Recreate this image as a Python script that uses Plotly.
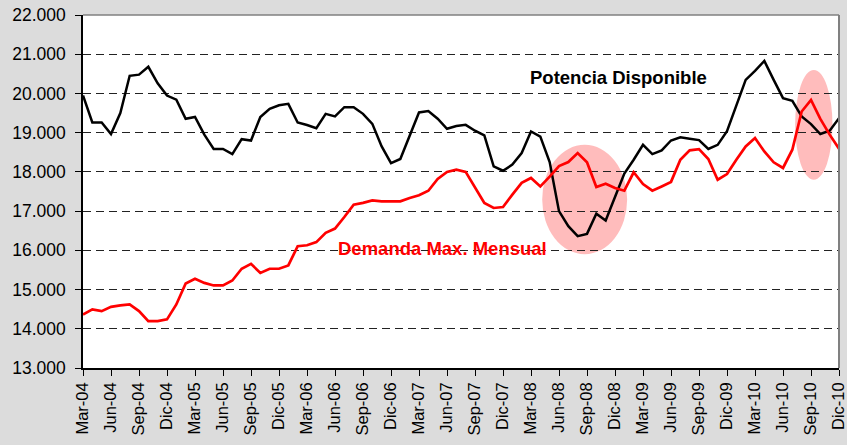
import plotly.graph_objects as go

# ---- data ----
month_names = ["Ene", "Feb", "Mar", "Abr", "May", "Jun",
               "Jul", "Ago", "Sep", "Oct", "Nov", "Dic"]
years = ["04", "05", "06", "07", "08", "09", "10"]
months = [f"{m}-{y}" for y in years for m in month_names][2:]  # Mar-04 .. Dic-10

potencia_disponible = [
    19950, 19260, 19260, 18965, 19500, 20450, 20480, 20680, 20260, 19945,
    19840, 19355, 19400, 18950, 18585, 18585, 18455, 18835, 18800, 19400,
    19610, 19700, 19735, 19260, 19195, 19115, 19480, 19415, 19650, 19650,
    19480, 19225, 18650, 18225, 18330, 18920, 19515, 19550, 19355, 19100,
    19170, 19200, 19050, 18930, 18140, 18030, 18185, 18480, 19030, 18900,
    18250, 17000, 16615, 16360, 16420, 16935, 16760, 17360, 17955, 18310,
    18690, 18455, 18550, 18800, 18880, 18845, 18810, 18585, 18690, 19040,
    19710, 20345, 20575, 20830, 20345, 19880, 19810, 19415, 19220, 18965,
    19050, 19370,
]

demanda_max = [
    14365, 14495, 14450, 14560, 14595, 14620, 14450, 14195, 14195, 14240,
    14620, 15155, 15275, 15170, 15105, 15105, 15230, 15530, 15655, 15425,
    15530, 15530, 15615, 16105, 16130, 16210, 16445, 16555, 16850, 17165,
    17210, 17275, 17250, 17250, 17250, 17335, 17405, 17520, 17820, 18000,
    18055, 18000, 17590, 17210, 17080, 17105, 17420, 17720, 17845, 17630,
    17880, 18150, 18250, 18480, 18245, 17615, 17700, 17590, 17520, 17990,
    17690, 17520, 17630, 17745, 18310, 18550, 18580, 18330, 17800, 17945,
    18310, 18650, 18865, 18520, 18245, 18100, 18565, 19540, 19835, 19350,
    18950, 18590,
]

tick_labels = months[::3]

FONT = "Arial, Liberation Sans, sans-serif"

fig = go.Figure()

fig.add_trace(go.Scatter(
    x=months, y=potencia_disponible, mode="lines",
    line=dict(color="black", width=2.5), name="Potencia Disponible",
))
fig.add_trace(go.Scatter(
    x=months, y=demanda_max, mode="lines",
    line=dict(color="#ff0000", width=2.7), name="Demanda Max. Mensual",
))

# highlighted ellipses (behind the lines)
fig.add_shape(type="circle", xref="x", yref="y", layer="below",
              x0=49.2, x1=58.3, y0=15900, y1=18690,
              fillcolor="rgba(255,70,70,0.36)", line=dict(width=0))
fig.add_shape(type="circle", xref="x", yref="y", layer="below",
              x0=76.3, x1=80.3, y0=17800, y1=20600,
              fillcolor="rgba(255,70,70,0.36)", line=dict(width=0))

# top / right plot border
fig.add_shape(type="line", xref="paper", yref="paper", x0=0, x1=1, y0=1, y1=1,
              line=dict(color="#808080", width=1.5))
fig.add_shape(type="line", xref="paper", yref="paper", x0=1, x1=1, y0=0, y1=1,
              line=dict(color="#808080", width=2))

fig.add_annotation(x=57.4, y=20400, xref="x", yref="y",
                   text="<b>Potencia Disponible</b>", showarrow=False,
                   font=dict(family=FONT, size=18.5, color="black"))
fig.add_annotation(x=38.5, y=16050, xref="x", yref="y",
                   text="<b>Demanda Max. Mensual</b>", showarrow=False,
                   font=dict(family=FONT, size=18.5, color="#ff0000"))

fig.update_layout(
    width=847, height=445,
    margin=dict(l=83, r=8, t=15, b=77),
    paper_bgcolor="#dcdcdc",
    plot_bgcolor="white",
    showlegend=False,
    separators=",.",
    font=dict(family=FONT, size=17, color="black"),
)

fig.update_xaxes(
    type="category",
    categoryorder="array", categoryarray=months,
    range=[0, len(months) - 1],
    tickmode="array", tickvals=tick_labels, ticktext=tick_labels,
    tickangle=-90,
    ticks="outside", ticklen=6, tickcolor="black", tickwidth=1,
    showline=True, linecolor="black", linewidth=1.5,
    showgrid=False, zeroline=False,
    automargin=False,
    tickfont=dict(family=FONT, size=16.5, color="black"),
)

fig.update_yaxes(
    range=[13000, 22000], dtick=1000, tick0=13000,
    tickformat=",.0f",
    ticks="outside", ticklen=6, tickcolor="black", tickwidth=1,
    showline=True, linecolor="black", linewidth=1.5,
    showgrid=True, gridcolor="#222222", gridwidth=1, griddash="8px,5px",
    zeroline=False,
    automargin=False,
    ticklabelstandoff=6,
    tickfont=dict(family=FONT, size=17.5, color="black"),
)

fig.write_html(
    "out.html",
    config={"displayModeBar": False},
    post_script="document.body.style.margin='0';"
                "document.body.style.background='#dcdcdc';"
                "document.body.style.overflow='hidden';",
)
